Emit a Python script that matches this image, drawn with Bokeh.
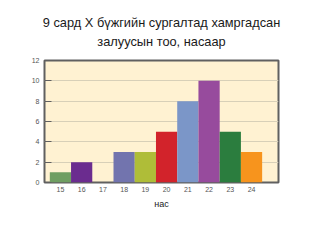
from bokeh.plotting import figure
from bokeh.models import Range1d, FixedTicker, Title, ColumnDataSource
from bokeh.embed import file_html
from bokeh.resources import INLINE

ages = [15, 16, 17, 18, 19, 20, 21, 22, 23, 24]
counts = [1, 2, 0, 3, 3, 5, 8, 10, 5, 3]
colors = ["#6f9e62", "#6b2c8f", "#7f7f7f", "#7274ae", "#afbd38",
          "#d2232b", "#7b96c8", "#974b9d", "#2b7d3e", "#f7941d"]
y_ticks = [0, 2, 4, 6, 8, 10, 12]
title_lines = ["9 сард Х бүжгийн сургалтад хамргадсан", "залуусын тоо, насаар"]
x_title = "нас"

src = ColumnDataSource(dict(x=ages, top=counts, color=colors))

p = figure(width=320, height=240, output_backend="svg", toolbar_location=None,
           x_range=Range1d(14.25, 25.27), y_range=Range1d(0, 12),
           min_border_left=44, min_border_right=42, min_border_top=60, min_border_bottom=58)
p.title.visible = False
p.background_fill_color = "#fff2d2"
p.border_fill_color = "white"
p.outline_line_color = "#606060"
p.outline_line_width = 2

p.vbar(x="x", top="top", width=1.0, bottom=0, fill_color="color", line_color=None, source=src)

p.xgrid.visible = False
p.ygrid.grid_line_color = "#d8d0b8"
p.ygrid.grid_line_width = 1

p.xaxis.ticker = FixedTicker(ticks=ages)
p.yaxis.ticker = FixedTicker(ticks=y_ticks)
for ax in (p.xaxis, p.yaxis):
    ax.axis_line_color = None
    ax.major_label_text_font = "Liberation Sans"
    ax.major_label_text_font_size = "7px"
    ax.major_label_text_color = "#555555"
    ax.minor_tick_line_color = None
p.xaxis.major_tick_line_color = None
p.xaxis.major_tick_out = 0
p.xaxis.major_tick_in = 0
p.xaxis.major_label_standoff = 4
p.yaxis.major_tick_in = 7
p.yaxis.major_tick_out = 0
p.yaxis.major_tick_line_color = "#606060"
p.yaxis.major_label_standoff = 5

# spacer between frame and title block
p.add_layout(Title(text=" ", text_font_size="1px", standoff=8), "above")
for t, so in zip(reversed(title_lines), [2, 1]):
    p.add_layout(Title(text=t, align="center", text_font="Liberation Sans",
                       text_font_size="12.8px", text_font_style="normal",
                       text_color="#1a1a1a", standoff=so), "above")
p.add_layout(Title(text=x_title, align="center", offset=11, text_font="Liberation Sans",
                   text_font_size="9px", text_font_style="normal",
                   text_color="#1a1a1a", standoff=5), "below")

open("out.html", "w").write(file_html(p, INLINE))
